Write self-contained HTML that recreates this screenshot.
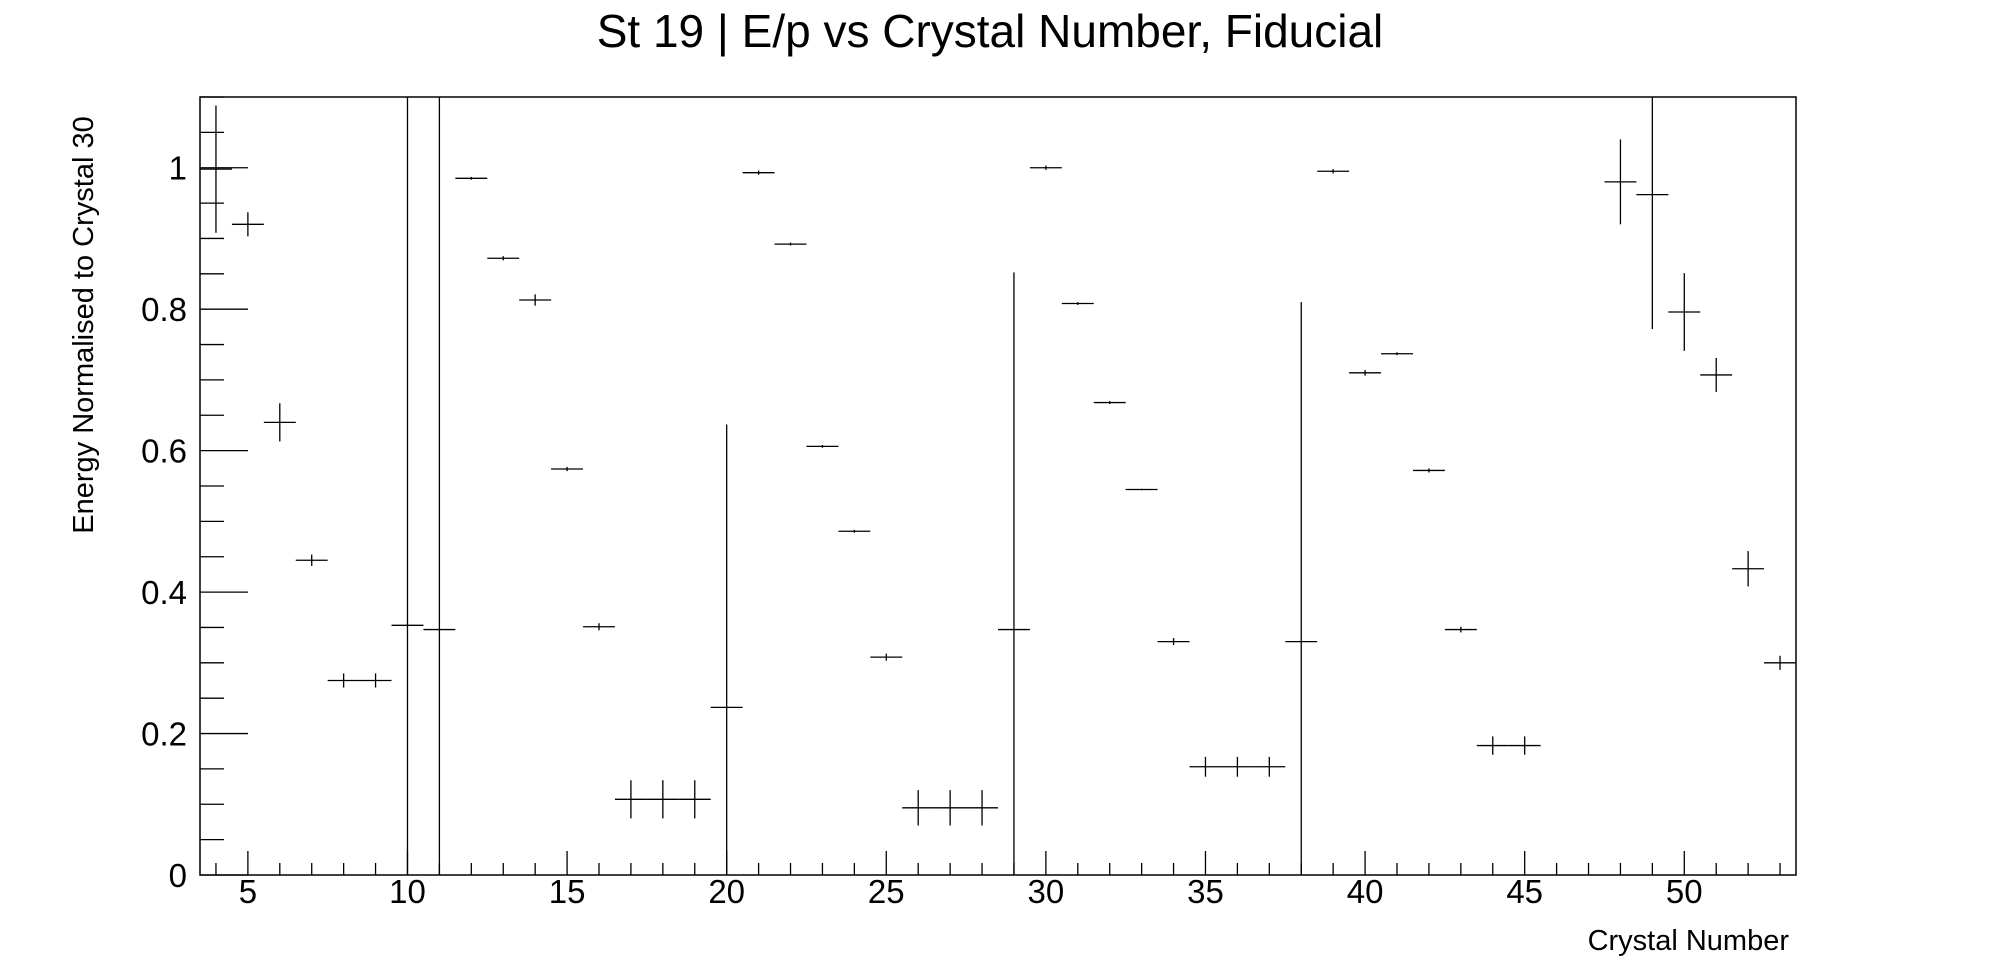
<!DOCTYPE html>
<html><head><meta charset="utf-8"><style>
html,body{margin:0;padding:0;background:#fff;}
svg{display:block;font-family:"Liberation Sans",sans-serif;}
</style></head><body>
<svg id="chart" width="1996" height="972" viewBox="0 0 1996 972" xmlns="http://www.w3.org/2000/svg">
<text x="990" y="47" font-size="46" text-anchor="middle">St 19 | E/p vs Crystal Number, Fiducial</text>
<text transform="translate(93,325) rotate(-90)" font-size="29" text-anchor="middle">Energy Normalised to Crystal 30</text>
<text x="1789" y="950" font-size="29" text-anchor="end">Crystal Number</text>
<g id="axes"></g>
<g id="marks"></g>
<rect x="200" y="97" width="1596" height="778" fill="none" stroke="#000" stroke-width="1.5"/>
</svg>
<script>
const crystals = [4,5,6,7,8,9,10,11,12,13,14,15,16,17,18,19,20,21,22,23,24,25,26,27,28,29,30,31,32,33,34,35,36,37,38,39,40,41,42,43,44,45,48,49,50,51,52,53];
const values = [0.998,0.92,0.64,0.445,0.275,0.275,0.353,0.347,0.985,0.872,0.813,0.574,0.351,0.107,0.107,0.107,0.237,0.993,0.892,0.606,0.486,0.308,0.095,0.095,0.095,0.347,1.0,0.808,0.668,0.545,0.33,0.153,0.153,0.153,0.33,0.995,0.71,0.737,0.572,0.347,0.183,0.183,0.98,0.962,0.796,0.707,0.433,0.3];
const errors = [0.09,0.017,0.027,0.008,0.01,0.01,2,2,0.002,0.003,0.008,0.003,0.005,0.027,0.027,0.027,0.4,0.003,0.002,0.002,0.002,0.005,0.025,0.025,0.025,0.505,0.003,0.002,0.002,0.001,0.005,0.014,0.014,0.014,0.48,0.003,0.004,0.002,0.003,0.004,0.013,0.013,0.06,0.19,0.055,0.024,0.025,0.01];
const xTickLabels = [5,10,15,20,25,30,35,40,45,50];
const yTickLabels = [0,0.2,0.4,0.6,0.8,1];

const L=200,R=1796,T=97,B=875,X0=3.5,X1=53.5,Y0=0,Y1=1.1;
const xs=v=>L+(v-X0)/(X1-X0)*(R-L);
const ys=v=>B-(v-Y0)/(Y1-Y0)*(B-T);
const NS="http://www.w3.org/2000/svg";
function ln(g,x1,y1,x2,y2,w){const e=document.createElementNS(NS,'line');e.setAttribute('x1',x1);e.setAttribute('y1',y1);e.setAttribute('x2',x2);e.setAttribute('y2',y2);e.setAttribute('stroke','#000');e.setAttribute('stroke-width',w||1.3);g.appendChild(e);return e;}
const ax=document.getElementById('axes');
for(let i=4;i<=53;i++){
  const major=i%5===0;
  const t=ln(ax,xs(i),B,xs(i),B-(major?24:12));
  
  
}
xTickLabels.forEach(v=>{
  const t=document.createElementNS(NS,'text');
  t.setAttribute('x',xs(v));t.setAttribute('y',903);t.setAttribute('font-size','33');t.setAttribute('text-anchor','middle');
  t.textContent=v;
  
  
  ax.appendChild(t);
});
for(let k=0;k<=22;k++){
  const v=k*0.05;const major=k%4===0;
  const t=ln(ax,L,ys(v),L+(major?48:24),ys(v));
  
  
}
yTickLabels.forEach(v=>{
  const t=document.createElementNS(NS,'text');
  t.setAttribute('x',187);t.setAttribute('y',ys(v)+12);t.setAttribute('font-size','33');t.setAttribute('text-anchor','end');
  t.textContent=v;
  
  
  ax.appendChild(t);
});
const mk=document.getElementById('marks');
const cl=v=>Math.max(T,Math.min(B,v));
crystals.forEach((c,i)=>{
  const g=document.createElementNS(NS,'g');
  
  
  ln(g,xs(c-0.5),ys(values[i]),xs(c+0.5),ys(values[i]));
  ln(g,xs(c),cl(ys(values[i]+errors[i])),xs(c),cl(ys(values[i]-errors[i])));
  mk.appendChild(g);
});
</script>
</body></html>
